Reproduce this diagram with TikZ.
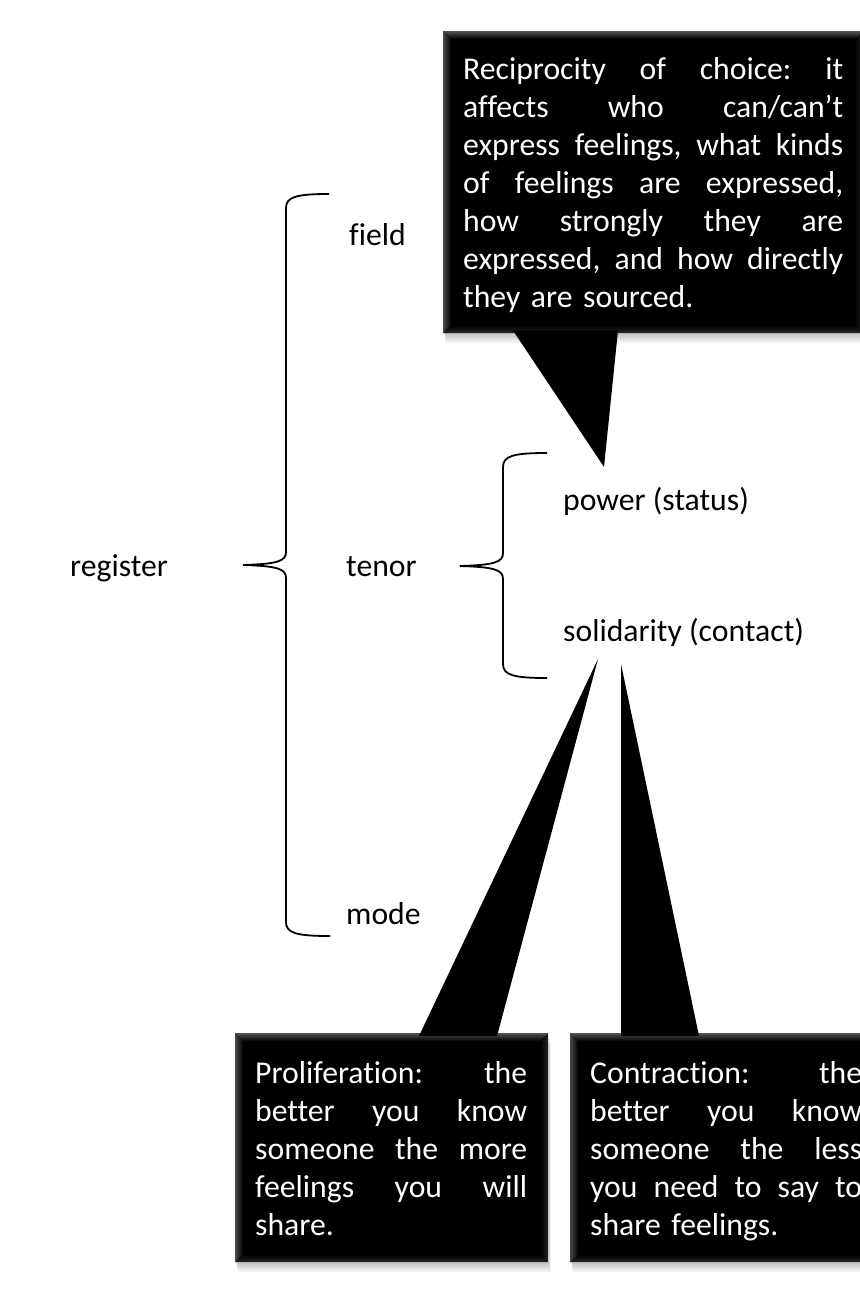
\documentclass[tikz,border=0pt]{standalone}
\usepackage{fontspec}
\setmainfont{Carlito}[Ligatures=NoCommon]
\usetikzlibrary{calc,shadows}
\newcommand\jl[2]{{\spaceskip=0pt\xspaceskip=0pt\makebox[#1][s]{#2}}}
\begin{document}
\frenchspacing
\begin{tikzpicture}[x=1pt,y=-1pt,
  txtfont/.style={font=\fontsize{31.7pt}{38pt}\selectfont},
  lbl/.style={txtfont, anchor=base west, inner sep=0pt, text=black},
  calltext/.style={txtfont, anchor=base west, inner sep=0pt, text=white},
  softshadow/.style={
    general shadow={fill=black, opacity=0.05, shadow xshift=0.5pt, shadow yshift=-2pt},
    general shadow={fill=black, opacity=0.05, shadow xshift=1pt, shadow yshift=-4pt},
    general shadow={fill=black, opacity=0.05, shadow xshift=1.5pt, shadow yshift=-6pt},
    general shadow={fill=black, opacity=0.05, shadow xshift=2pt, shadow yshift=-8pt},
    general shadow={fill=black, opacity=0.05, shadow xshift=2.5pt, shadow yshift=-10pt}},
  bevel/.style={path picture={
    \coordinate (pnw) at (path picture bounding box.north west);
    \coordinate (pne) at (path picture bounding box.north east);
    \coordinate (psw) at (path picture bounding box.south west);
    \coordinate (pse) at (path picture bounding box.south east);
    \shade[top color=black!68, bottom color=black] (pnw) -- (pne) -- ($(pne)+(-8pt,-8pt)$) -- ($(pnw)+(8pt,-8pt)$) -- cycle;
    \shade[left color=black!72, right color=black] (pnw) -- ($(pnw)+(8pt,-8pt)$) -- ($(psw)+(8pt,8pt)$) -- (psw) -- cycle;
    \shade[bottom color=black!85, top color=black] (psw) -- (pse) -- ($(pse)+(-8pt,8pt)$) -- ($(psw)+(8pt,8pt)$) -- cycle;
    \shade[right color=black!85, left color=black] (pne) -- ($(pne)+(-8pt,-8pt)$) -- ($(pse)+(-8pt,8pt)$) -- (pse) -- cycle;
  }},
  callbox/.style={anchor=north west, fill=black, inner sep=0pt, softshadow, bevel},
  tail/.style={fill=black},
  brace/.style={draw=black, line width=1.8pt}
]
\useasboundingbox (0,0) rectangle (859,1289);

% labels
\node[lbl] (register) at (70,576) {register};
\node[lbl] (field) at (349,246) {field};
\node[lbl] (tenor) at (346,576) {tenor};
\node[lbl] (mode) at (346,924) {mode};
\node[lbl] (power) at (563,510) {power (status)};
\node[lbl] (solid) at (563,641) {solidarity (contact)};

% big brace
\coordinate (bTop) at (329,194);
\coordinate (bTip) at (243,565);
\coordinate (bBot) at (330,936);
\draw[brace] (bTop) .. controls (296,194) and (286,197) .. (286,208)
  -- (286,552) .. controls (286,561) and (278,564) .. (bTip)
  .. controls (278,566) and (286,569) .. (286,578)
  -- (286,922) .. controls (286,933) and (296,936) .. (bBot);

% small brace
\coordinate (sTop) at (547,453);
\coordinate (sTip) at (460,566);
\coordinate (sBot) at (547,678);
\draw[brace] (sTop) .. controls (513,453) and (503,456) .. (503,467)
  -- (503,553) .. controls (503,562) and (495,565) .. (sTip)
  .. controls (495,567) and (503,570) .. (503,579)
  -- (503,664) .. controls (503,675) and (513,678) .. (sBot);

% top callout
\node[callbox, minimum width=420pt, minimum height=302pt] (topbox) at (443,31) {};
\coordinate (tipT) at (604,467);
\fill[tail] ($(topbox.south west)+(70pt,3pt)$) -- (tipT) -- ($(topbox.south west)+(175pt,3pt)$) -- cycle;
\node[calltext, text width=380pt] (ttext) at ($(topbox.north west)+(20pt,-49pt)$) {%
\jl{380pt}{Reciprocity of choice: it}\\
\jl{380pt}{affects who can/can’t}\\
\jl{380pt}{express feelings, what kinds}\\
\jl{380pt}{of feelings are expressed,}\\
\jl{380pt}{how strongly they are}\\
\jl{380pt}{expressed, and how directly}\\
they are sourced.};

% bottom-left callout
\node[callbox, minimum width=313pt, minimum height=229pt] (lbox) at (235,1033) {};
\coordinate (tipL) at (598,659);
\fill[tail] ($(lbox.north west)+(184pt,-3pt)$) -- (tipL) -- ($(lbox.north west)+(262pt,-3pt)$) -- cycle;
\node[calltext, text width=272pt] (ltext) at ($(lbox.north west)+(20pt,-50pt)$) {%
\jl{272pt}{Proliferation: the}\\
\jl{272pt}{better you know}\\
\jl{272pt}{someone the more}\\
\jl{272pt}{feelings you will}\\
share.};

% bottom-right callout
\node[callbox, minimum width=313pt, minimum height=229pt] (rbox) at (570,1033) {};
\coordinate (tipR) at (621,664);
\fill[tail] ($(rbox.north west)+(51pt,-3pt)$) -- (tipR) -- ($(rbox.north west)+(129pt,-3pt)$) -- cycle;
\node[calltext, text width=272pt] (rtext) at ($(rbox.north west)+(20pt,-50pt)$) {%
\jl{272pt}{Contraction: the}\\
\jl{272pt}{better you know}\\
\jl{272pt}{someone the less}\\
\jl{272pt}{you need to say to}\\
share feelings.};
\end{tikzpicture}
\end{document}
